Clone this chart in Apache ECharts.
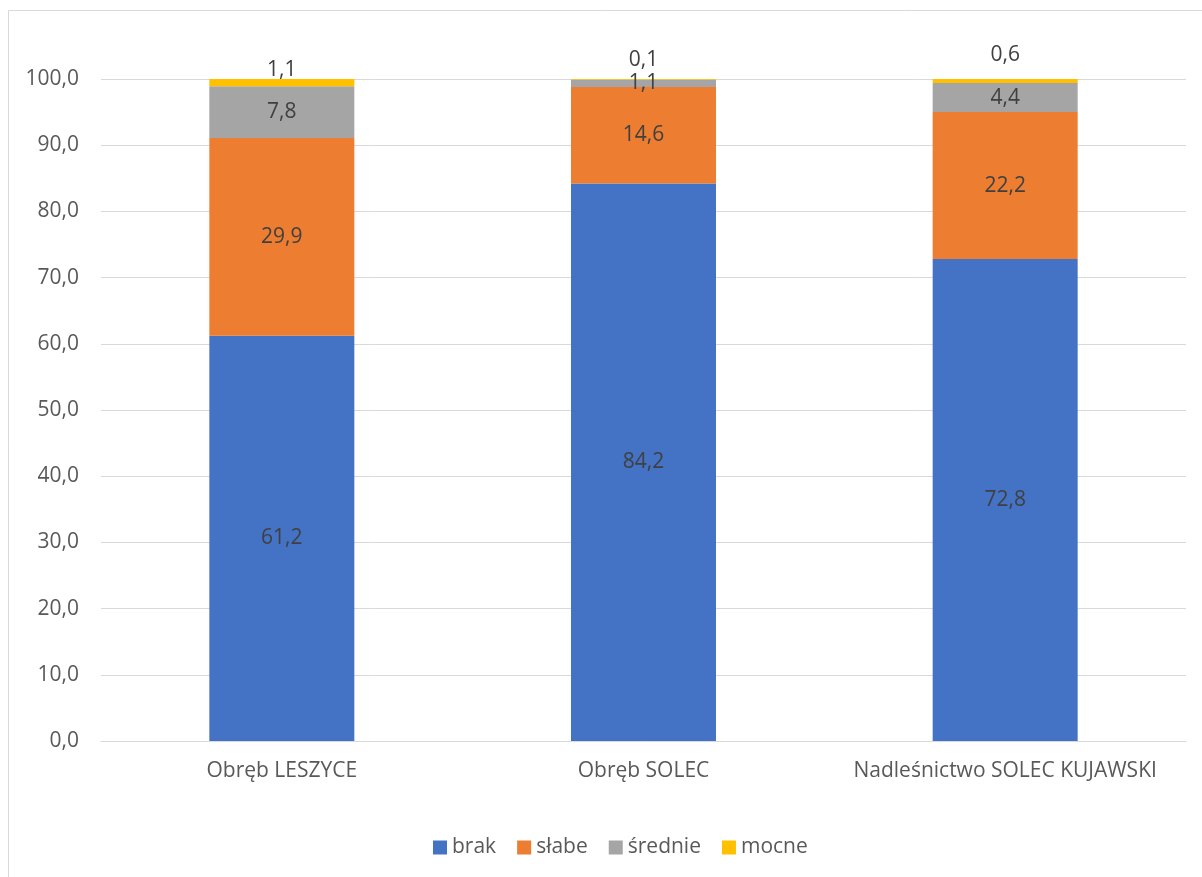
<!DOCTYPE html>
<html>
<head>
<meta charset="utf-8">
<script src="https://cdn.jsdelivr.net/npm/echarts@6/dist/echarts.min.js"></script>
<style>
html,body{margin:0;padding:0;background:#fff;}
#chart{width:1202px;height:877px;}
</style>
</head>
<body>
<div id="chart"></div>
<script>
const categories = ['Obręb LESZYCE', 'Obręb SOLEC', 'Nadleśnictwo SOLEC KUJAWSKI'];
const seriesNames = ['brak', 'słabe', 'średnie', 'mocne'];
const brak = [61.2, 84.2, 72.8];
const slabe = [29.9, 14.6, 22.2];
const srednie = [7.8, 1.1, 4.4];
const mocne = [1.1, 0.1, 0.6];
const yTicks = [0, 10, 20, 30, 40, 50, 60, 70, 80, 90, 100];

const colors = ['#4472C4', '#ED7D31', '#A5A5A5', '#FFC000'];
const FONT = '"Open Sans", "Noto Sans", sans-serif';
const fmt = v => v.toFixed(1).replace('.', ',');

const chart = echarts.init(document.getElementById('chart'), null, {renderer: 'canvas'});

const mocneDistances = [-2, 8, 13];

function mkSeries(name, values, idx) {
  const isTop = idx === 3;
  return {
    name: name,
    type: 'bar',
    stack: 'total',
    barWidth: 145,
    itemStyle: {color: colors[idx]},
    label: {
      show: true,
      position: isTop ? 'top' : 'inside',
      distance: 2,
      color: '#404040',
      fontFamily: FONT,
      fontSize: 21,
      formatter: p => fmt(p.value)
    },
    labelLayout: {hideOverlap: false},
    data: values.map((v, i) => isTop ? {value: v, label: {show: true, position: 'top', distance: mocneDistances[i]}} : v),
    emphasis: {disabled: true}
  };
}

chart.setOption({
  animation: false,
  color: colors,
  graphic: [{
    type: 'rect',
    shape: {x: 8.5, y: 10.5, width: 1300, height: 1000},
    style: {fill: 'none', stroke: '#D9D9D9', lineWidth: 1},
    silent: true
  }],
  grid: {left: 101, right: 16, top: 79, bottom: 136, containLabel: false},
  legend: {
    data: seriesNames,
    top: 832,
    left: 428,
    itemWidth: 14,
    itemHeight: 14,
    itemGap: 21,
    icon: 'rect',
    textStyle: {color: '#595959', fontFamily: FONT, fontSize: 21, padding: [0, 0, 0, 0]}
  },
  xAxis: {
    type: 'category',
    data: categories,
    axisLine: {show: true, lineStyle: {color: '#D9D9D9', width: 1}},
    axisTick: {show: false},
    axisLabel: {color: '#595959', fontFamily: FONT, fontSize: 21, margin: 20, interval: 0}
  },
  yAxis: {
    type: 'value',
    min: yTicks[0],
    max: yTicks[yTicks.length - 1],
    interval: yTicks[1] - yTicks[0],
    axisLine: {show: false},
    axisTick: {show: false},
    splitLine: {lineStyle: {color: '#D9D9D9', width: 1}},
    axisLabel: {color: '#595959', fontFamily: FONT, fontSize: 21, margin: 22, formatter: v => fmt(v)}
  },
  series: [
    mkSeries(seriesNames[0], brak, 0),
    mkSeries(seriesNames[1], slabe, 1),
    mkSeries(seriesNames[2], srednie, 2),
    mkSeries(seriesNames[3], mocne, 3)
  ]
});
</script>
</body>
</html>
